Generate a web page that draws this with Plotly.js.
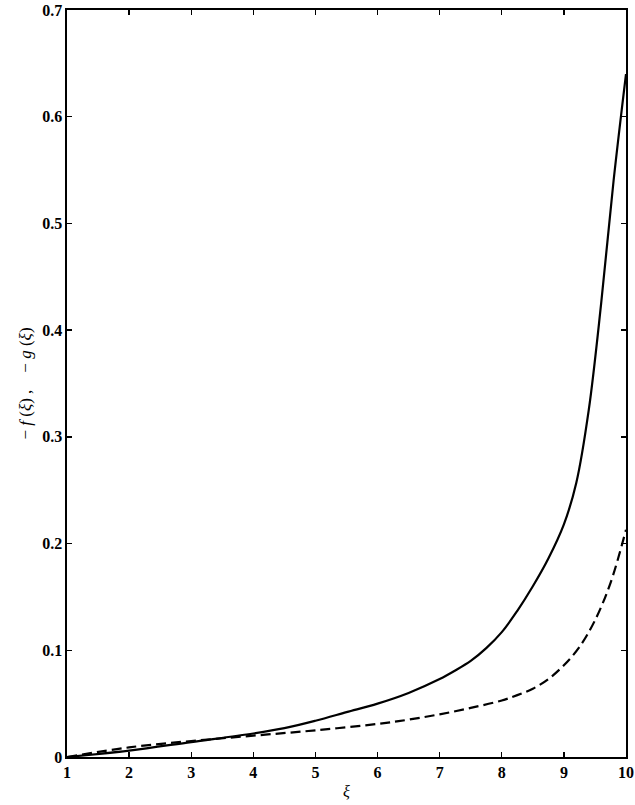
<!DOCTYPE html>
<html>
<head>
<meta charset="utf-8">
<script src="https://cdn.plot.ly/plotly-3.0.1.min.js"></script>
<style>html,body{margin:0;padding:0;background:#fff;}#chart{width:635px;height:805px;}</style>
</head>
<body>
<div id="chart"></div>
<script>
// xi values and the two curves
const xiF = [1, 2, 3, 4, 4.5, 5, 5.5, 6, 6.5, 7, 7.25, 7.5, 7.75, 8, 8.25, 8.5, 8.75, 9, 9.2, 9.4, 9.6, 9.8, 10];
const negF = [0, 0.006, 0.014, 0.022, 0.027, 0.034, 0.042, 0.050, 0.060, 0.073, 0.081, 0.090, 0.102, 0.117, 0.137, 0.160, 0.186, 0.218, 0.257, 0.325, 0.425, 0.540, 0.640];
const xiG = [1, 2, 3, 4, 5, 6, 6.5, 7, 7.5, 8, 8.25, 8.5, 8.75, 9, 9.25, 9.5, 9.75, 10];
const negG = [0, 0.009, 0.015, 0.020, 0.025, 0.031, 0.035, 0.040, 0.046, 0.053, 0.058, 0.064, 0.073, 0.086, 0.103, 0.128, 0.163, 0.213];
const xTicks = [1, 2, 3, 4, 5, 6, 7, 8, 9, 10];
const yTicks = [0, 0.1, 0.2, 0.3, 0.4, 0.5, 0.6, 0.7];
const yTickText = ["0", "0.1", "0.2", "0.3", "0.4", "0.5", "0.6", "0.7"];

const serif = "Liberation Serif, Times New Roman, serif";
const traces = [
  {x: xiF, y: negF, mode: "lines", line: {color: "#000", width: 2.2, shape: "spline", smoothing: 1}, name: "-f", hoverinfo: "skip"},
  {x: xiG, y: negG, mode: "lines", line: {color: "#000", width: 2.2, dash: "10px,5px", shape: "spline", smoothing: 1}, name: "-g", hoverinfo: "skip"}
];
const axisCommon = {
  showline: true, linecolor: "#000", linewidth: 1.6, mirror: "ticks",
  ticks: "inside", ticklen: 5, tickwidth: 1.3, tickcolor: "#000",
  showgrid: false, zeroline: false, ticklabeloverflow: "allow",
  tickfont: {family: serif, size: 16, color: "#000", weight: "bold"}
};
const layout = {
  width: 635, height: 805,
  margin: {l: 67, r: 9, t: 10, b: 48},
  paper_bgcolor: "#fff", plot_bgcolor: "#fff",
  showlegend: false,
  xaxis: Object.assign({}, axisCommon, {
    range: [1, 10], tickvals: xTicks, ticktext: xTicks.map(String),
    title: {text: "<i>ξ</i>", font: {family: serif, size: 16, color: "#000"}, standoff: 6}
  }),
  yaxis: Object.assign({}, axisCommon, {
    range: [0, 0.7], tickvals: yTicks, ticktext: yTickText,
    title: {text: "− <i>f</i> (<i>ξ</i>) ,    − <i>g</i> (<i>ξ</i>)", font: {family: serif, size: 17, color: "#000"}, standoff: 6}
  })
};
Plotly.newPlot("chart", traces, layout, {displayModeBar: false, staticPlot: true});
</script>
</body>
</html>
